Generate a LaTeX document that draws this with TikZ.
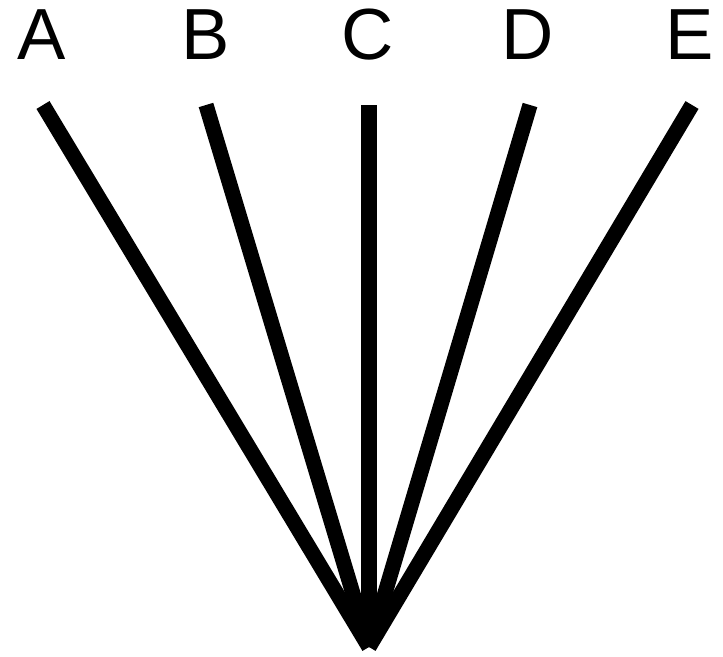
\documentclass[tikz,border=0pt]{standalone}
\usepackage{fontspec}
\setmainfont{Liberation Sans}
\usetikzlibrary{positioning}

\begin{document}
\begin{tikzpicture}[x=0.025cm, y=-0.025cm,
    letter/.style={font=\fontsize{51.5}{52}\selectfont, inner sep=0pt, anchor=base},
    spoke/.style={line width=10.8pt, line cap=butt}]
        \useasboundingbox (0,0) rectangle (723,657);
        \coordinate (apex) at (369,647);
        \foreach \name/\x/\tx in {A/42/43, B/206/206, C/368/369, D/528/530, E/690/692} {
          \node[letter] (\name) at (\x,60) {\name};
          \coordinate (\name top) at (\tx,105);
          \draw[spoke] (\name top) -- (apex);
        }
      \end{tikzpicture}
\end{document}
